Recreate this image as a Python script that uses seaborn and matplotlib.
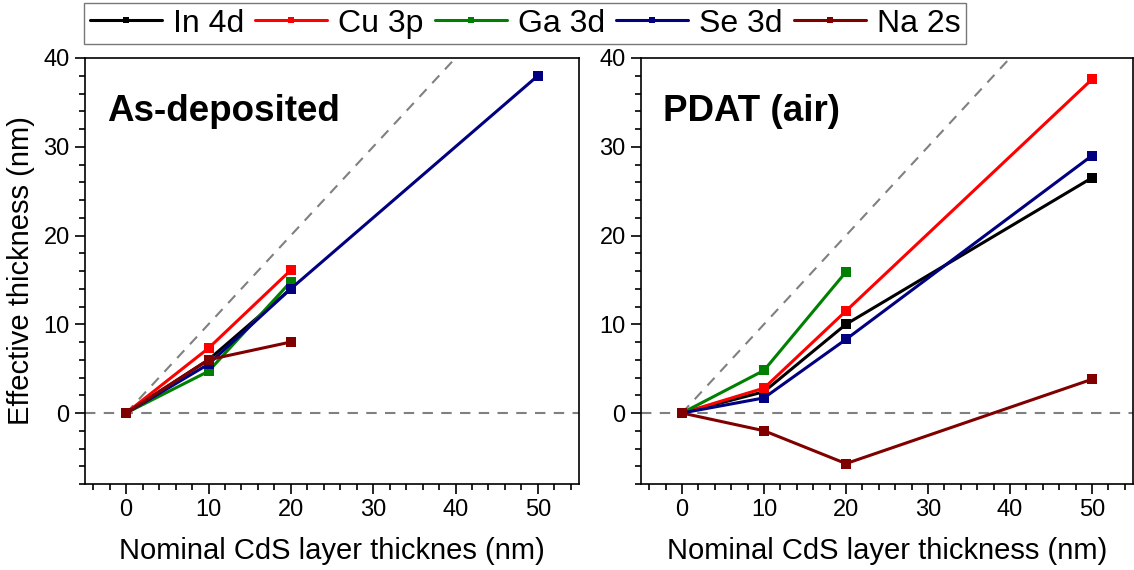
import matplotlib
matplotlib.use("Agg")
import matplotlib.pyplot as plt
from matplotlib.lines import Line2D
from matplotlib.ticker import MultipleLocator
import seaborn as sns
import pandas as pd

# orbitals / legend entries
orbitals = ["In 4d", "Cu 3p", "Ga 3d", "Se 3d", "Na 2s"]
colors = ["#000000", "#ff0000", "#008000", "#000080", "#800000"]

# as-deposited panel
asdep_x = {
    "In 4d": [0, 10, 20],
    "Cu 3p": [0, 10, 20],
    "Ga 3d": [0, 10, 20],
    "Se 3d": [0, 10, 20, 50],
    "Na 2s": [0, 10, 20],
}
asdep_y = {
    "In 4d": [0, 6.0, 14.0],
    "Cu 3p": [0, 7.3, 16.1],
    "Ga 3d": [0, 4.7, 14.8],
    "Se 3d": [0, 5.5, 14.0, 38.0],
    "Na 2s": [0, 6.0, 8.0],
}

# PDAT (air) panel
pdat_x = {
    "In 4d": [0, 10, 20, 50],
    "Cu 3p": [0, 10, 20, 50],
    "Ga 3d": [0, 10, 20],
    "Se 3d": [0, 10, 20, 50],
    "Na 2s": [0, 10, 20, 50],
}
pdat_y = {
    "In 4d": [0, 2.4, 10.0, 26.5],
    "Cu 3p": [0, 2.8, 11.5, 37.6],
    "Ga 3d": [0, 4.8, 15.9],
    "Se 3d": [0, 1.7, 8.3, 29.0],
    "Na 2s": [0, -2.0, -5.7, 3.8],
}

# guide lines: effective = nominal, and zero
ident_x = [0, 55]
zero_x = [-5, 55]


def to_frame(xs, ys):
    rows = []
    for name in orbitals:
        for a, b in zip(xs[name], ys[name]):
            rows.append({"nominal": a, "effective": b, "orbital": name})
    return pd.DataFrame(rows)


sns.set_style("ticks")
plt.rcParams["font.family"] = ["Liberation Sans", "DejaVu Sans"]
plt.rcParams["text.color"] = "black"
plt.rcParams["axes.labelcolor"] = "black"
plt.rcParams["xtick.color"] = "black"
plt.rcParams["ytick.color"] = "black"

fig = plt.figure(figsize=(11.34, 5.70), dpi=100)
ax1 = fig.add_axes([85 / 1134, 86 / 570, 494 / 1134, 426 / 570])
ax2 = fig.add_axes([641 / 1134, 86 / 570, 492 / 1134, 426 / 570])

panels = [(ax1, asdep_x, asdep_y, "As-deposited"),
          (ax2, pdat_x, pdat_y, "PDAT (air)")]

for ax, xs, ys, title in panels:
    ax.plot(ident_x, ident_x, color="#808080", lw=1.5, dashes=(5, 4), zorder=1)
    ax.plot(zero_x, [0, 0], color="#808080", lw=1.5, dashes=(5, 4), zorder=1)
    df = to_frame(xs, ys)
    sns.lineplot(data=df, x="nominal", y="effective", hue="orbital",
                 hue_order=orbitals, palette=colors, marker="s",
                 markersize=7.5, markeredgewidth=0, linewidth=2.2,
                 legend=False, ax=ax, zorder=3)
    ax.set_xlim(-5, 55)
    ax.set_ylim(-8, 40)
    ax.xaxis.set_major_locator(MultipleLocator(10))
    ax.xaxis.set_minor_locator(MultipleLocator(2))
    ax.yaxis.set_major_locator(MultipleLocator(10))
    ax.yaxis.set_minor_locator(MultipleLocator(2))
    ax.tick_params(which="major", direction="out", length=7, width=1.2,
                   labelsize=17, pad=4, top=False, right=False)
    ax.tick_params(which="minor", direction="out", length=4, width=1.2,
                   top=False, right=False)
    for sp in ax.spines.values():
        sp.set_linewidth(1.2)
        sp.set_color("black")
    ax.text(0.045, 0.875, title, transform=ax.transAxes, fontsize=26.5,
            fontweight="bold", va="center", ha="left")

ax1.set_xlabel("Nominal CdS layer thicknes (nm)", fontsize=21, labelpad=11)
ax2.set_xlabel("Nominal CdS layer thickness (nm)", fontsize=21, labelpad=11)
ax1.set_ylabel("Effective thickness (nm)", fontsize=21, labelpad=6)
ax2.set_ylabel("")

handles = [Line2D([], [], color=c, lw=2.2, marker="s", markersize=5,
                  markeredgewidth=0) for c in colors]
leg = fig.legend(handles, orbitals, loc="upper left",
                 bbox_to_anchor=(84 / 1134, 0.995), ncol=5, fontsize=23,
                 frameon=True, fancybox=False, handlelength=2.25,
                 handletextpad=0.35, columnspacing=0.35, borderpad=0.18,
                 borderaxespad=0)
leg.get_frame().set_edgecolor("#555555")
leg.get_frame().set_linewidth(1.0)

fig.savefig("out.png", dpi=100)
